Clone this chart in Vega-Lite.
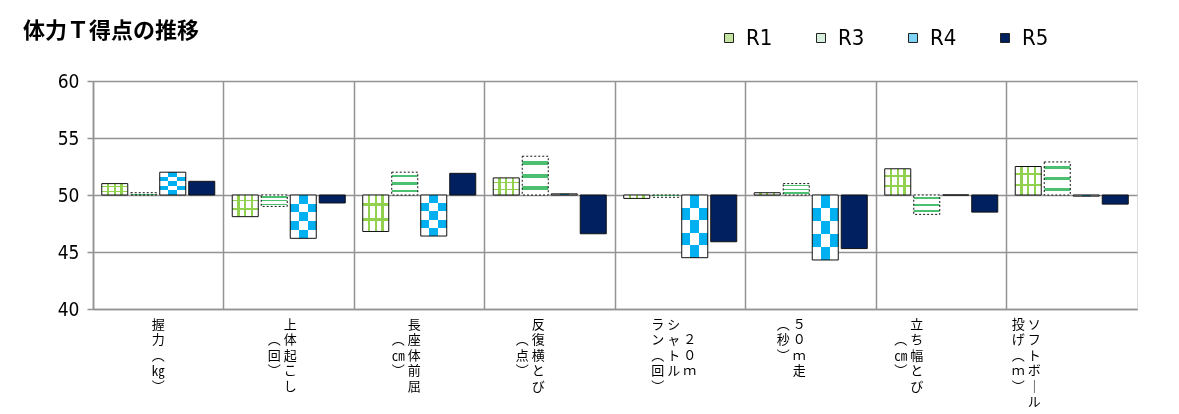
{
  "$schema": "https://vega.github.io/schema/vega-lite/v6.json",
  "autosize": "none",
  "width": 1044,
  "height": 228,
  "padding": {"left": 93, "top": 81, "right": 42, "bottom": 105},
  "background": "white",
  "title": {
    "text": "体力Ｔ得点の推移",
    "anchor": "start",
    "frame": "group",
    "font": "Noto Sans CJK JP",
    "fontSize": 22,
    "fontWeight": "bold",
    "color": "black",
    "dx": -70,
    "offset": 0,
    "dy": 16
  },
  "data": {
    "values": [
      {"cat": "握力（kg）", "series": "R1", "value": 51.0},
      {"cat": "握力（kg）", "series": "R3", "value": 50.2},
      {"cat": "握力（kg）", "series": "R4", "value": 52.0},
      {"cat": "握力（kg）", "series": "R5", "value": 51.2},
      {"cat": "上体起こし（回）", "series": "R1", "value": 48.1},
      {"cat": "上体起こし（回）", "series": "R3", "value": 49.0},
      {"cat": "上体起こし（回）", "series": "R4", "value": 46.2},
      {"cat": "上体起こし（回）", "series": "R5", "value": 49.3},
      {"cat": "長座体前屈（cm）", "series": "R1", "value": 46.8},
      {"cat": "長座体前屈（cm）", "series": "R3", "value": 52.0},
      {"cat": "長座体前屈（cm）", "series": "R4", "value": 46.4},
      {"cat": "長座体前屈（cm）", "series": "R5", "value": 51.9},
      {"cat": "反復横とび（点）", "series": "R1", "value": 51.5},
      {"cat": "反復横とび（点）", "series": "R3", "value": 53.4},
      {"cat": "反復横とび（点）", "series": "R4", "value": 50.1},
      {"cat": "反復横とび（点）", "series": "R5", "value": 46.6},
      {"cat": "20mシャトルラン（回）", "series": "R1", "value": 49.7},
      {"cat": "20mシャトルラン（回）", "series": "R3", "value": 49.8},
      {"cat": "20mシャトルラン（回）", "series": "R4", "value": 44.5},
      {"cat": "20mシャトルラン（回）", "series": "R5", "value": 45.9},
      {"cat": "50m走（秒）", "series": "R1", "value": 50.2},
      {"cat": "50m走（秒）", "series": "R3", "value": 51.0},
      {"cat": "50m走（秒）", "series": "R4", "value": 44.3},
      {"cat": "50m走（秒）", "series": "R5", "value": 45.3},
      {"cat": "立ち幅とび（cm）", "series": "R1", "value": 52.3},
      {"cat": "立ち幅とび（cm）", "series": "R3", "value": 48.3},
      {"cat": "立ち幅とび（cm）", "series": "R4", "value": 50.0},
      {"cat": "立ち幅とび（cm）", "series": "R5", "value": 48.5},
      {"cat": "ソフトボール投げ（m）", "series": "R1", "value": 52.5},
      {"cat": "ソフトボール投げ（m）", "series": "R3", "value": 52.9},
      {"cat": "ソフトボール投げ（m）", "series": "R4", "value": 49.9},
      {"cat": "ソフトボール投げ（m）", "series": "R5", "value": 49.2}
    ]
  },
  "encoding": {
    "x": {
      "field": "cat",
      "type": "nominal",
      "sort": null,
      "title": null,
      "scale": {"paddingInner": 0, "paddingOuter": 0},
      "axis": {
        "labelAngle": 0,
        "ticks": false,
        "grid": true,
        "bandPosition": 0,
        "gridColor": "#939393",
        "gridWidth": 1.5,
        "domainColor": "#939393",
        "domainWidth": 1.5,
        "labelFont": "Noto Sans CJK JP",
        "labelFontSize": 13,
        "labelLineHeight": 15.5,
        "labelPadding": 9,
        "labelColor": "black",
        "labelBaseline": "top",
        "labelAlign": "center",
        "labelLimit": 0,
        "labelOverlap": false,
        "labelBound": false,
        "labelFlush": false,
        "labelExpr": "datum.value == '握力（kg）' ? ['握','力','︵','㎏','︶'] : datum.value == '上体起こし（回）' ? ['\u200b　 上　\u200b','\u200b︵ 体　\u200b','\u200b回 起　\u200b','\u200b︶ こ　\u200b','\u200b　 し　\u200b'] : datum.value == '長座体前屈（cm）' ? ['\u200b　 長　　\u200b','\u200b︵ 座　　\u200b','\u200b㎝ 体　　\u200b','\u200b︶ 前　　\u200b','\u200b　 屈　　\u200b'] : datum.value == '反復横とび（点）' ? ['\u200b　 反　　　\u200b','\u200b︵ 復　　　\u200b','\u200b点 横　　　\u200b','\u200b︶ と　　　\u200b','\u200b　 び　　　\u200b'] : datum.value == '20mシャトルラン（回）' ? ['\u200bラ シ 　　\u200b','\u200bン ャ ２　\u200b','\u200b︵ ト ０　\u200b','\u200b回 ル ｍ　\u200b','\u200b︶ 　 　　\u200b'] : datum.value == '50m走（秒）' ? ['\u200b︵ ５　　　\u200b','\u200b秒 ０　　　\u200b','\u200b︶ ｍ　　　\u200b','\u200b　 走　　　\u200b'] : datum.value == '立ち幅とび（cm）' ? ['\u200b　 立　　　　　\u200b','\u200b︵ ち　　　　　\u200b','\u200b㎝ 幅　　　　　\u200b','\u200b︶ と　　　　　\u200b','\u200b　 び　　　　　\u200b'] : ['\u200b投 ソ　　　　　　　\u200b','\u200bげ フ　　　　　　　\u200b','\u200b︵ ト　　　　　　　\u200b','\u200bｍ ボ　　　　　　　\u200b','\u200b︶ ｜　　　　　　　\u200b','\u200b　 ル　　　　　　　\u200b']"
      }
    },
    "xOffset": {
      "field": "series",
      "type": "nominal",
      "sort": ["R1", "R3", "R4", "R5"],
      "scale": {"paddingInner": 0.1034, "paddingOuter": 0.3017}
    },
    "y": {
      "field": "value",
      "type": "quantitative",
      "title": null,
      "scale": {"domain": [40, 60], "nice": false, "zero": false},
      "axis": {
        "values": [40, 45, 50, 55, 60],
        "grid": true,
        "gridColor": "#939393",
        "gridWidth": 1.5,
        "domainColor": "#939393",
        "domainWidth": 1.5,
        "tickColor": "#939393",
        "tickWidth": 1.5,
        "tickSize": 6,
        "labelFont": "DejaVu Sans Condensed, Liberation Sans",
        "labelFontSize": 19,
        "labelPadding": 8,
        "labelColor": "black"
      }
    },
    "y2": {"datum": 50}
  },
  "layer": [
    {
      "transform": [{"filter": "datum.series == 'R1'"}],
      "mark": {
        "type": "bar",
        "fill": {
          "gradient": "linear", "x1": 0, "y1": 0, "x2": 1, "y2": 0,
          "stops": [
            {"offset": 0, "color": "#ffffff"}, {"offset": 0.2, "color": "#ffffff"},
            {"offset": 0.2, "color": "#92D050"}, {"offset": 0.28, "color": "#92D050"},
            {"offset": 0.28, "color": "#ffffff"}, {"offset": 0.46, "color": "#ffffff"},
            {"offset": 0.46, "color": "#92D050"}, {"offset": 0.54, "color": "#92D050"},
            {"offset": 0.54, "color": "#ffffff"}, {"offset": 0.72, "color": "#ffffff"},
            {"offset": 0.72, "color": "#92D050"}, {"offset": 0.8, "color": "#92D050"},
            {"offset": 0.8, "color": "#ffffff"}, {"offset": 1, "color": "#ffffff"}
          ]
        }
      }
    },
    {
      "transform": [{"filter": "datum.series == 'R1'"}],
      "mark": {
        "type": "bar",
        "fill": {
          "gradient": "linear", "x1": 0, "y1": 0, "x2": 0, "y2": 1,
          "stops": [
            {"offset": 0, "color": "rgba(146,208,80,0)"}, {"offset": 0.22, "color": "rgba(146,208,80,0)"},
            {"offset": 0.22, "color": "rgba(146,208,80,1)"}, {"offset": 0.3, "color": "rgba(146,208,80,1)"},
            {"offset": 0.3, "color": "rgba(146,208,80,0)"}, {"offset": 0.62, "color": "rgba(146,208,80,0)"},
            {"offset": 0.62, "color": "rgba(146,208,80,1)"}, {"offset": 0.7, "color": "rgba(146,208,80,1)"},
            {"offset": 0.7, "color": "rgba(146,208,80,0)"}, {"offset": 1, "color": "rgba(146,208,80,0)"}
          ]
        }
      }
    },
    {
      "transform": [{"filter": "datum.series == 'R3'"}],
      "mark": {
        "type": "bar",
        "fill": {
          "gradient": "linear", "x1": 0, "y1": 0, "x2": 0, "y2": 1,
          "stops": [
            {"offset": 0, "color": "#ffffff"}, {"offset": 0.12, "color": "#ffffff"},
            {"offset": 0.12, "color": "#4cbf70"}, {"offset": 0.22, "color": "#4cbf70"},
            {"offset": 0.22, "color": "#ffffff"}, {"offset": 0.45, "color": "#ffffff"},
            {"offset": 0.45, "color": "#4cbf70"}, {"offset": 0.55, "color": "#4cbf70"},
            {"offset": 0.55, "color": "#ffffff"}, {"offset": 0.78, "color": "#ffffff"},
            {"offset": 0.78, "color": "#4cbf70"}, {"offset": 0.88, "color": "#4cbf70"},
            {"offset": 0.88, "color": "#ffffff"}, {"offset": 1, "color": "#ffffff"}
          ]
        }
      }
    },
    {
      "transform": [{"filter": "datum.series == 'R4'"}],
      "mark": {
        "type": "bar",
        "fill": {
          "gradient": "linear", "x1": 0, "y1": 0, "x2": 1, "y2": 0,
          "stops": [
            {"offset": 0, "color": "#ffffff"}, {"offset": 0.333, "color": "#ffffff"},
            {"offset": 0.333, "color": "#000000"}, {"offset": 0.667, "color": "#000000"},
            {"offset": 0.667, "color": "#ffffff"}, {"offset": 1, "color": "#ffffff"}
          ]
        }
      }
    },
    {
      "transform": [{"filter": "datum.series == 'R4'"}],
      "mark": {
        "type": "bar",
        "blend": "difference",
        "fill": {
          "gradient": "linear", "x1": 0, "y1": 0, "x2": 0, "y2": 1,
          "stops": [
            {"offset": 0, "color": "#000000"}, {"offset": 0.2, "color": "#000000"},
            {"offset": 0.2, "color": "#ffffff"}, {"offset": 0.4, "color": "#ffffff"},
            {"offset": 0.4, "color": "#000000"}, {"offset": 0.6, "color": "#000000"},
            {"offset": 0.6, "color": "#ffffff"}, {"offset": 0.8, "color": "#ffffff"},
            {"offset": 0.8, "color": "#000000"}, {"offset": 1, "color": "#000000"}
          ]
        }
      }
    },
    {
      "transform": [{"filter": "datum.series == 'R4'"}],
      "mark": {"type": "bar", "blend": "screen", "fill": "#00B0F0"}
    },
    {
      "transform": [{"filter": "datum.series == 'R5'"}],
      "mark": {"type": "bar", "fill": "#002060"}
    },
    {
      "transform": [{"filter": "datum.series != 'R3'"}],
      "mark": {"type": "bar", "fill": null, "fillOpacity": 0, "stroke": "#111111", "strokeWidth": 1}
    },
    {
      "transform": [{"filter": "datum.series == 'R3'"}],
      "mark": {"type": "bar", "fill": null, "fillOpacity": 0, "stroke": "#111111", "strokeWidth": 1, "strokeDash": [2, 2]}
    },
    {
      "mark": {"type": "square", "opacity": 0},
      "encoding": {
        "fill": {
          "field": "series",
          "type": "nominal",
          "scale": {"domain": ["R1", "R3", "R4", "R5"], "range": ["#c3e4a0", "#d6efdd", "#7fd4f5", "#002060"]},
          "legend": {
            "title": null,
            "orient": "none",
            "legendX": 625,
            "legendY": -54,
            "direction": "horizontal",
            "symbolType": "square",
            "symbolSize": 81,
            "symbolOpacity": 1,
            "symbolStrokeColor": "#222222",
            "symbolStrokeWidth": 1,
            "labelFont": "DejaVu Sans Condensed, Liberation Sans",
            "labelFontSize": 22,
            "labelColor": "black",
            "labelOffset": 6,
            "columnPadding": 37
          }
        }
      }
    }
  ]
}
